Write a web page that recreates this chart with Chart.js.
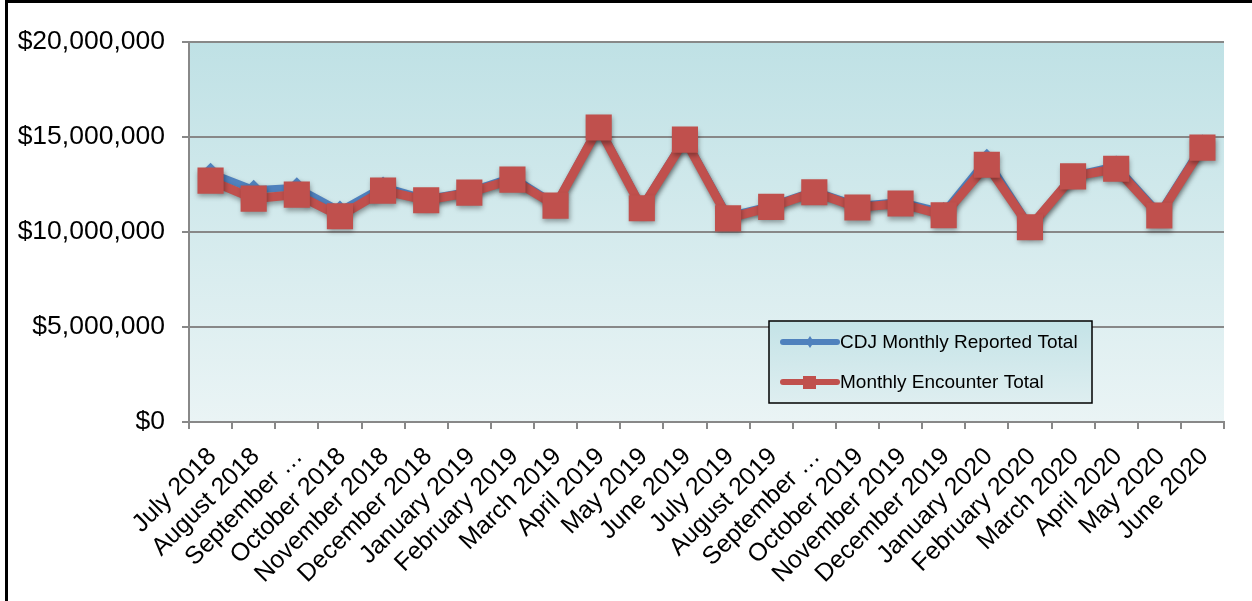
<!DOCTYPE html>
<html lang="en">

<head>
    <meta charset="UTF-8">
    <script src="https://cdn.jsdelivr.net/npm/chart.js"></script>
    <title>CDJ vs Encounter</title>
    <style>
        html, body { margin: 0; padding: 0; overflow: hidden; background: #fff; }
        #wrap { position: relative; width: 1252px; height: 601px; }
        #frame { position: absolute; left: 5px; top: 0; width: 1400px; height: 800px;
                 border-left: 3px solid #000; border-top: 3px solid #000; pointer-events: none; }
    </style>
</head>

<body>
    <div id="wrap">
        <canvas id="grafico" width="1252" height="601"></canvas>
        <div id="frame"></div>
    </div>

<script>
    const meses = ['July 2018', 'August 2018', 'September …', 'October 2018', 'November 2018', 'December 2018',
        'January 2019', 'February 2019', 'March 2019', 'April 2019', 'May 2019', 'June 2019',
        'July 2019', 'August 2019', 'September …', 'October 2019', 'November 2019', 'December 2019',
        'January 2020', 'February 2020', 'March 2020', 'April 2020', 'May 2020', 'June 2020']

    const cdjReportado = [13120000, 12230000, 12350000, 11130000, 12400000, 11750000,
        12150000, 12900000, 11470000, 15600000, 11330000, 14950000,
        10850000, 11400000, 12180000, 11400000, 11600000, 11050000,
        13850000, 10320000, 12980000, 13500000, 11000000, 14600000]

    const encounterTotal = [12700000, 11760000, 11970000, 10830000, 12180000, 11670000,
        12070000, 12760000, 11390000, 15500000, 11250000, 14860000,
        10720000, 11320000, 12090000, 11290000, 11500000, 10880000,
        13540000, 10250000, 12930000, 13330000, 10870000, 14440000]

    const yTicks = [0, 5000000, 10000000, 15000000, 20000000]

    const fonte = "'Liberation Sans', Arial, sans-serif"
    const azul = '#4F81BD'
    const vermelho = '#C0504D'

    // fundo em degradê só na área do gráfico
    const fundoPlugin = {
        id: 'fundo',
        beforeDraw(chart) {
            const { ctx, chartArea: a } = chart
            const g = ctx.createLinearGradient(0, a.top, 0, a.bottom)
            g.addColorStop(0, '#bfe1e5')
            g.addColorStop(1, '#eaf4f5')
            ctx.save()
            ctx.fillStyle = g
            ctx.fillRect(a.left, a.top, a.right - a.left, a.bottom - a.top)
            ctx.restore()
        }
    }

    // sombra leve nas séries
    const sombraPlugin = {
        id: 'sombra',
        beforeDatasetDraw(chart) {
            const ctx = chart.ctx
            ctx.save()
            ctx.shadowColor = 'rgba(0,0,0,0.35)'
            ctx.shadowBlur = 5
            ctx.shadowOffsetX = 1
            ctx.shadowOffsetY = 3
        },
        afterDatasetDraw(chart) {
            chart.ctx.restore()
        }
    }

    // legenda em caixa dentro da área do gráfico
    const legendaPlugin = {
        id: 'legendaCaixa',
        afterDraw(chart) {
            const ctx = chart.ctx
            const x = 769, y = 321, w = 323, h = 82
            ctx.save()
            const g = ctx.createLinearGradient(0, y, 0, y + h)
            g.addColorStop(0, '#c4e3e7')
            g.addColorStop(1, '#deeef0')
            ctx.fillStyle = g
            ctx.fillRect(x, y, w, h)
            ctx.strokeStyle = '#000'
            ctx.lineWidth = 1.5
            ctx.strokeRect(x, y, w, h)
            ctx.font = '19px ' + fonte
            ctx.textBaseline = 'middle'
            const itens = [chart.data.datasets[0], chart.data.datasets[1]]
            itens.forEach((ds, i) => {
                const ly = y + 21 + i * 40
                ctx.strokeStyle = ds.borderColor
                ctx.lineWidth = 6
                ctx.lineCap = 'round'
                ctx.beginPath()
                ctx.moveTo(x + 14, ly)
                ctx.lineTo(x + 68, ly)
                ctx.stroke()
                ctx.fillStyle = ds.borderColor
                if (ds.pointStyle === 'rectRot') {
                    ctx.beginPath()
                    ctx.moveTo(x + 41, ly - 6)
                    ctx.lineTo(x + 45, ly)
                    ctx.lineTo(x + 41, ly + 6)
                    ctx.lineTo(x + 37, ly)
                    ctx.closePath()
                    ctx.fill()
                } else {
                    ctx.fillRect(x + 34, ly - 6, 13, 13)
                }
                ctx.fillStyle = '#000'
                ctx.fillText(ds.label, x + 71, ly + 1)
            })
            ctx.restore()
        }
    }

    new Chart(grafico, {
        type: 'line',
        data: {
            labels: meses,
            datasets: [{
                label: 'CDJ Monthly Reported Total',
                data: cdjReportado,
                borderColor: azul,
                backgroundColor: azul,
                borderWidth: 7,
                pointStyle: 'rectRot',
                pointRadius: 10,
                pointBorderWidth: 0,
                order: 2
            }, {
                label: 'Monthly Encounter Total',
                data: encounterTotal,
                borderColor: vermelho,
                backgroundColor: vermelho,
                borderWidth: 9,
                pointStyle: 'rect',
                pointRadius: 18.5,
                pointBorderWidth: 0,
                order: 1
            }]
        },
        options: {
            responsive: false,
            animation: false,
            layout: { padding: { top: 42, right: 28, left: 0, bottom: 0 } },
            plugins: {
                legend: { display: false },
                tooltip: { enabled: false }
            },
            scales: {
                x: {
                    offset: true,
                    grid: { offset: true, drawOnChartArea: false, drawTicks: true, tickLength: 7, color: '#888', lineWidth: 2 },
                    border: { color: '#888', width: 2 },
                    ticks: {
                        color: '#000', font: { family: fonte, size: 25 },
                        minRotation: 45, maxRotation: 45, autoSkip: false, padding: 13, labelOffset: 2
                    },
                    afterFit(scale) { scale.height = 179 }
                },
                y: {
                    min: 0,
                    max: 20000000,
                    afterBuildTicks(scale) { scale.ticks = yTicks.map(v => ({ value: v })) },
                    grid: { color: '#888', lineWidth: 2, tickLength: 7 },
                    border: { color: '#888', width: 2 },
                    ticks: {
                        color: '#000', font: { family: fonte, size: 26.5 }, padding: 17,
                        callback: v => '$' + v.toLocaleString('en-US')
                    },
                    afterFit(scale) { scale.width = 189 }
                }
            }
        },
        plugins: [fundoPlugin, sombraPlugin, legendaPlugin]
    })
</script>
</body>

</html>
